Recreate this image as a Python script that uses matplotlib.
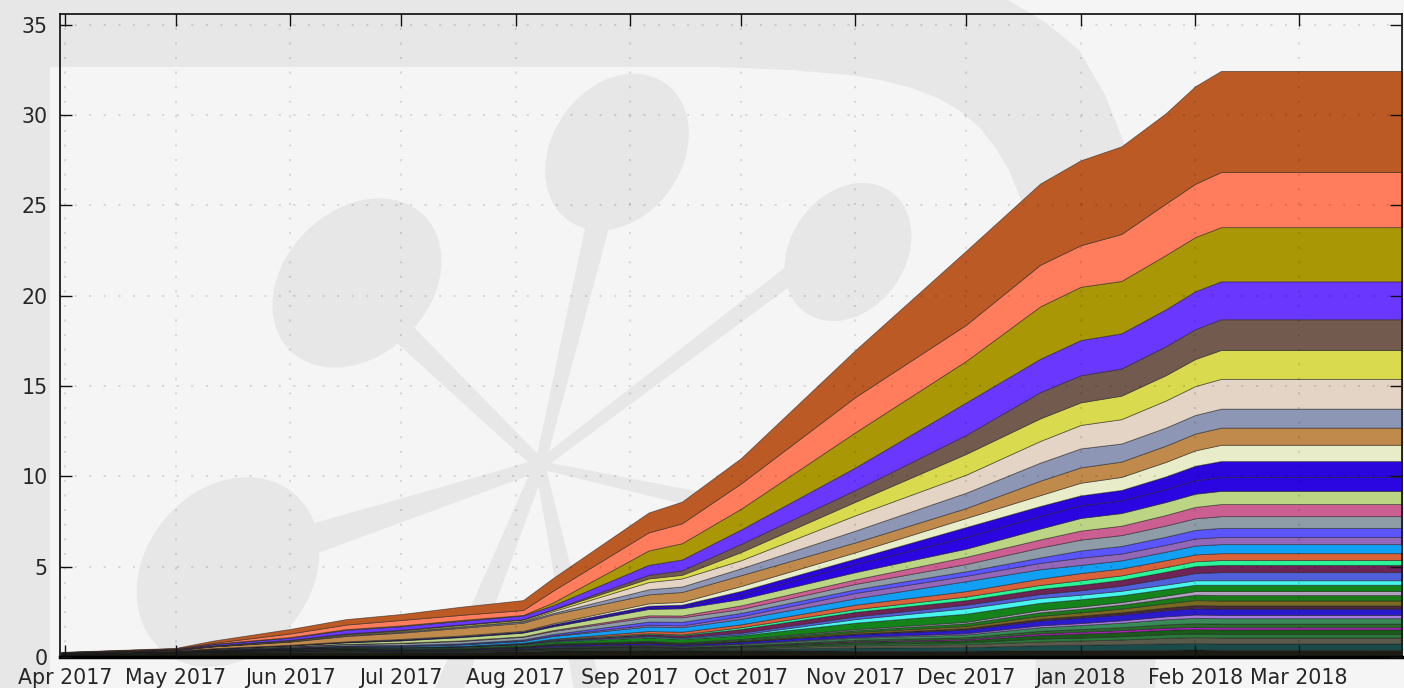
import numpy as np
import pandas as pd
import matplotlib
matplotlib.use("Agg")
import matplotlib.pyplot as plt
import matplotlib.dates as mdates
from matplotlib.patches import Ellipse

dates = pd.to_datetime([
    "2017-03-31", "2017-05-01", "2017-05-11", "2017-06-01", "2017-06-16", "2017-07-01", "2017-07-17",
    "2017-08-03", "2017-08-11", "2017-09-06", "2017-09-15", "2017-10-01", "2017-11-01", "2017-12-01",
    "2017-12-21", "2018-01-01", "2018-01-12", "2018-01-24", "2018-02-01", "2018-02-08", "2018-03-29",
])

# stack layers, top of the chart first
burnt = [.01,.03,.12,.25,.3,.33,.45,.55,.7,1.1,1.2,1.4,2.6,4.1,4.5,4.7,4.85,5.0,5.4,5.6,5.6]
salmon = [.01,.02,.05,.2,.25,.3,.28,.27,.65,1.0,1.1,1.4,1.95,2.0,2.3,2.3,2.6,2.85,2.95,3.05,3.05]
olive = [.005,.01,.02,.03,.04,.04,.05,.03,.15,.8,.9,1.15,1.95,2.3,2.9,2.95,2.9,3.0,3.0,3.0,3.0]
violet = [.01,.02,.07,.12,.2,.2,.2,.2,.22,.55,.6,.8,1.25,1.8,1.85,1.95,1.95,2.05,2.1,2.1,2.1]
umber = [.005,.01,.02,.03,.04,.04,.03,.03,.03,.2,.25,.45,.65,1.05,1.45,1.5,1.5,1.6,1.65,1.7,1.7]
yellow = [.005,.01,.02,.03,.04,.05,.07,.07,.08,.2,.2,.45,.75,1.15,1.25,1.25,1.3,1.4,1.5,1.6,1.6]
beige = [.005,.01,.01,.02,.03,.03,.03,.03,.1,.4,.45,.45,.85,1.0,1.2,1.3,1.35,1.5,1.6,1.65,1.65]
steel = [.005,.01,.01,.02,.03,.04,.06,.07,.07,.28,.3,.38,.65,.85,1.0,1.05,1.0,1.0,1.03,1.05,1.05]
tan = [.01,.03,.1,.18,.3,.35,.42,.45,.5,.5,.55,.6,.55,.55,.8,.85,.85,.9,.93,.95,.95]
cream = [.005,.005,.01,.01,.015,.02,.03,.03,.05,.13,.15,.27,.35,.5,.6,.7,.72,.8,.85,.9,.9]
blue1 = [.005,.005,.01,.01,.02,.03,.03,.04,.07,.1,.1,.2,.3,.55,.55,.55,.58,.7,.8,.88,.88]
blue2 = [.005,.005,.01,.01,.02,.03,.03,.03,.05,.08,.1,.25,.45,.65,.7,.7,.7,.72,.75,.77,.77]
lime = [.005,.01,.02,.04,.08,.13,.18,.2,.2,.35,.4,.35,.4,.45,.6,.7,.7,.72,.73,.73,.73]
pink = [.005,.005,.005,.01,.01,.02,.03,.03,.05,.1,.1,.2,.25,.4,.45,.5,.52,.58,.63,.67,.67]
slate_gray = [.005,.01,.02,.04,.07,.1,.13,.15,.17,.25,.25,.22,.3,.4,.55,.6,.6,.62,.64,.65,.65]
periwinkle = [.005,.005,.01,.02,.03,.04,.05,.05,.07,.17,.2,.18,.2,.25,.3,.4,.42,.45,.48,.5,.5]
purple = [.005,.005,.005,.01,.01,.02,.02,.03,.04,.1,.1,.15,.3,.3,.35,.4,.38,.38,.39,.4,.4]
sky = [.005,.005,.01,.02,.03,.05,.08,.1,.15,.25,.25,.3,.35,.55,.52,.45,.45,.47,.49,.5,.5]
orange = [.003,.003,.005,.005,.01,.01,.01,.02,.03,.12,.15,.16,.25,.3,.35,.4,.38,.38,.38,.38,.38]
mint = [.003,.003,.005,.005,.01,.01,.01,.02,.03,.05,.05,.1,.15,.2,.22,.25,.25,.26,.27,.27,.27]
plum = [.003,.003,.005,.005,.01,.01,.01,.02,.03,.08,.1,.2,.25,.25,.28,.3,.32,.36,.38,.4,.4]
indigo = [.003,.003,.005,.01,.01,.02,.02,.03,.04,.05,.05,.1,.15,.2,.22,.25,.28,.35,.4,.45,.45]
cyan = [.003,.003,.005,.01,.01,.02,.02,.03,.03,.05,.05,.05,.2,.3,.27,.25,.25,.25,.25,.25,.25]
green = [.005,.005,.01,.02,.03,.04,.05,.07,.1,.2,.2,.2,.35,.45,.4,.4,.38,.36,.35,.35,.35]
lilac = [0,0,0,.01,.01,.01,.01,.01,.02,.02,.02,.03,.06,.08,.12,.13,.14,.17,.2,.22,.22]
moss = [0,0,.01,.01,.01,.01,.02,.02,.03,.04,.04,.07,.1,.15,.2,.2,.22,.26,.3,.3,.3]
ochre = [0,0,.01,.01,.01,.01,.01,.02,.02,.03,.03,.03,.08,.12,.16,.18,.2,.23,.27,.27,.27]
wine = [0,0,0,.01,.01,.01,.01,.01,.02,.02,.02,.02,.05,.08,.1,.11,.13,.15,.18,.18,.18]
navy = [.01,.01,.02,.03,.03,.03,.03,.05,.07,.08,.07,.1,.15,.2,.27,.3,.32,.34,.35,.35,.35]
orchid = [0,0,0,.01,.01,.01,.01,.01,.02,.02,.02,.02,.05,.07,.1,.11,.13,.16,.18,.18,.18]
teal = [0,.01,.01,.02,.02,.02,.03,.03,.04,.05,.05,.08,.1,.15,.2,.22,.25,.28,.3,.3,.3]
pine = [0,0,0,.01,.01,.01,.01,.01,.02,.03,.03,.03,.08,.1,.14,.15,.16,.19,.2,.2,.2]
magenta = [0,0,0,0,.01,.01,.01,.01,.01,.02,.02,.02,.05,.06,.09,.1,.11,.11,.12,.12,.12]
fern = [0,.01,.01,.01,.01,.01,.01,.02,.03,.04,.03,.05,.1,.13,.2,.22,.23,.25,.25,.25,.25]
forest = [0,.01,.01,.01,.02,.02,.02,.02,.03,.04,.03,.05,.08,.1,.16,.17,.18,.2,.2,.2,.2]
stone = [0,.01,.01,.02,.02,.01,.02,.02,.03,.04,.03,.05,.13,.16,.21,.23,.26,.31,.33,.33,.33]
deep_teal = [.01,.02,.02,.03,.03,.03,.03,.04,.05,.05,.05,.05,.17,.2,.27,.3,.31,.35,.35,.35,.35]
soot = [.13,.21,.25,.27,.3,.26,.27,.33,.36,.41,.36,.4,.35,.35,.38,.38,.4,.4,.42,.4,.4]

layers = [burnt, salmon, olive, violet, umber, yellow, beige, steel, tan, cream, blue1, blue2, lime, pink,
          slate_gray, periwinkle, purple, sky, orange, mint, plum, indigo, cyan, green, lilac, moss, ochre,
          wine, navy, orchid, teal, pine, magenta, fern, forest, stone, deep_teal, soot]
colors = ["#bc5a26", "#ff7d5c", "#a99706", "#6a37ff", "#725a4f", "#d9da4d", "#e3d4c5", "#8d97b5", "#bf8a4b",
          "#e9ecc9", "#2a05dc", "#2c06e0", "#bcd585", "#cc5f92", "#8e9ca8", "#5a55ff", "#9368b8", "#12a0f5",
          "#d9623a", "#2cf598", "#6e2455", "#5060d8", "#45f5ee", "#14841a", "#b0a0c0", "#1a7a1a", "#7a6a20",
          "#4a2a3a", "#2a1acc", "#a87ae0", "#3a8a5a", "#2a6a2a", "#b020c0", "#1a5a1a", "#2a7a3a", "#5a5a4a",
          "#1a4a4a", "#1c1c14"]

y_ticks = [0, 5, 10, 15, 20, 25, 30, 35]

fig = plt.figure(figsize=(14.04, 6.88), dpi=100, facecolor="#f5f5f5")

# watermark behind everything, in pixel coordinates
bg = fig.add_axes([0, 0, 1, 1], zorder=0)
bg.set_xlim(0, 1404)
bg.set_ylim(688, 0)
bg.axis("off")
mark = "#e7e7e7"
frame_x = [-10, 1008, 1045, 1079, 1105, 1123, 1145, 1156, 1158, 1155, 1035, 1040, 1032, 1021,
           1009, 995, 980, 963, 940, 912, 880, 850, 790, 720, 50, 50, -10]
frame_y = [-10, 0, 22, 50, 95, 140, 230, 310, 400, 700, 700, 400, 270, 200,
           170, 147, 128, 113, 99, 88, 80, 75, 70, 67, 67, 700, 700]
bg.fill(frame_x, frame_y, color=mark, lw=0)
for cx, cy, w, h, ang in [(357, 283, 190, 145, -45), (617, 152, 168, 130, -55),
                          (848, 252, 148, 115, -55), (228, 572, 205, 165, -50)]:
    bg.add_patch(Ellipse((cx, cy), w, h, angle=ang, fc=mark, ec="none"))
# stems get thinner toward the hub
hub = np.array([540, 465])
for ex, ey, w_end, w_hub in [(395, 325, 24, 12), (600, 215, 24, 10), (790, 275, 18, 10), (310, 540, 30, 12),
                             (700, 500, 16, 8), (445, 700, 28, 12), (590, 700, 28, 10)]:
    tip = np.array([ex, ey])
    d = tip - hub
    n = np.array([-d[1], d[0]]) / np.hypot(*d)
    poly = np.array([hub + n * w_hub / 2, tip + n * w_end / 2, tip - n * w_end / 2, hub - n * w_hub / 2])
    bg.fill(poly[:, 0], poly[:, 1], color=mark, lw=0)

ax = fig.add_axes([60 / 1404, 31 / 688, 1342 / 1404, 643 / 688], zorder=1)
ax.patch.set_visible(False)

# stackplot draws from the baseline up
ax.stackplot(dates, layers[::-1], colors=colors[::-1], edgecolor=(0.1, 0.1, 0.1, 0.55), linewidth=0.6)

ax.set_xlim(pd.Timestamp("2017-03-30 15:00"), pd.Timestamp("2018-03-29"))
ax.set_ylim(0, 35.6)
ax.set_yticks(y_ticks)
ax.xaxis.set_major_locator(mdates.MonthLocator())
ax.xaxis.set_major_formatter(mdates.DateFormatter("%b %Y"))
ax.tick_params(axis="both", direction="in", length=8.5, width=1, top=True, right=True,
               labelsize=14.8, labelcolor="#262626", color="#111111")
ax.tick_params(axis="x", pad=8)
ax.tick_params(axis="y", pad=9)
ax.grid(True, color="black", alpha=0.12, linestyle=(0, (1, 6)), linewidth=1.5)
ax.set_axisbelow(False)
for side in ax.spines.values():
    side.set_linewidth(1.3)
    side.set_color("#1a1a1a")
ax.spines["bottom"].set_linewidth(2.5)
ax.spines["bottom"].set_color("black")

fig.savefig("out.png", dpi=100, facecolor=fig.get_facecolor())
